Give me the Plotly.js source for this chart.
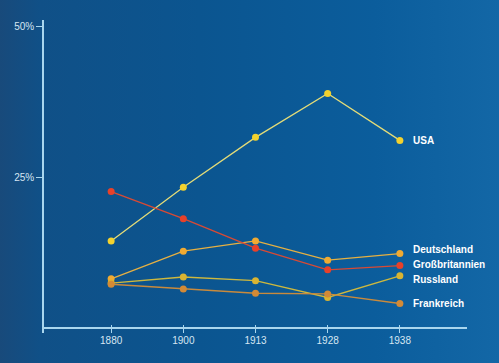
<!DOCTYPE html>
<html><head><meta charset="utf-8">
<script src="https://cdn.plot.ly/plotly-3.0.1.min.js"></script>
<style>
html,body{margin:0;padding:0;}
body{width:499px;height:363px;background:linear-gradient(to right,#184a7b 0%,#105087 8%,#0b5590 40%,#0b5d9c 75%,#1367a6 100%);}
#chart{width:499px;height:363px;}
</style></head>
<body><div id="chart"></div>
<script>
const years = ["1880","1900","1913","1928","1938"];
const usa = [14.4, 23.3, 31.6, 38.9, 31.1];
const deutschland = [8.1, 12.7, 14.4, 11.2, 12.3];
const grossbritannien = [22.6, 18.1, 13.2, 9.6, 10.3];
const russland = [7.4, 8.4, 7.8, 5.0, 8.6];
const frankreich = [7.2, 6.4, 5.7, 5.6, 4.0];
const names = ["USA","Deutschland","Großbritannien","Russland","Frankreich"];
const yTicks = [25, 50];
const yTickText = ["25%", "50%"];

const series = [usa, deutschland, grossbritannien, russland, frankreich];
const lineColors = ["#e4dc78","#e6b042","#d94a34","#cdb83e","#c98a3c"];
const markerColors = ["#f3d22e","#f0aa32","#e8412a","#d9b432","#d38a36"];
const labelShift = [0, 4, 1, -4, 0];

const traces = series.map((s,i)=>({
  x: years, y: s, type:'scatter', mode:'lines+markers', name:names[i],
  line:{color:lineColors[i], width:1.3},
  marker:{color:markerColors[i], size:7},
  hoverinfo:'skip'
}));

const annotations = series.map((s,i)=>({
  x: years.length-1, y: s[s.length-1], xref:'x', yref:'y',
  text: '<b>'+names[i]+'</b>', showarrow:false, xanchor:'left', yanchor:'middle',
  xshift: 11, yshift: labelShift[i],
  font:{family:'Liberation Sans', size:10, color:'#ffffff'}
}));

const layout = {
  width:499, height:363,
  paper_bgcolor:'rgba(0,0,0,0)', plot_bgcolor:'rgba(0,0,0,0)',
  margin:{l:44, r:32, t:20, b:30},
  showlegend:false,
  font:{family:'Liberation Sans, Arial, sans-serif', size:10, color:'#d6e6f2'},
  xaxis:{type:'category', range:[-0.93, 4.93], showgrid:false, zeroline:false,
    showline:false, ticks:'inside', ticklen:8, tickcolor:'#a9d6ee', tickwidth:1,
    tickfont:{size:10, color:'#d6e6f2'}, fixedrange:true},
  yaxis:{range:[-0.9, 51.1], showgrid:false, zeroline:true, zerolinecolor:'#a9d6ee',
    zerolinewidth:1.5, showline:true, linecolor:'#a9d6ee', linewidth:1.5,
    ticks:'outside', ticklen:6, tickcolor:'#a9d6ee', tickvals:yTicks, ticktext:yTickText,
    tickfont:{size:10, color:'#d6e6f2'}, fixedrange:true},
  annotations: annotations
};
Plotly.newPlot('chart', traces, layout, {displayModeBar:false});
</script></body></html>
